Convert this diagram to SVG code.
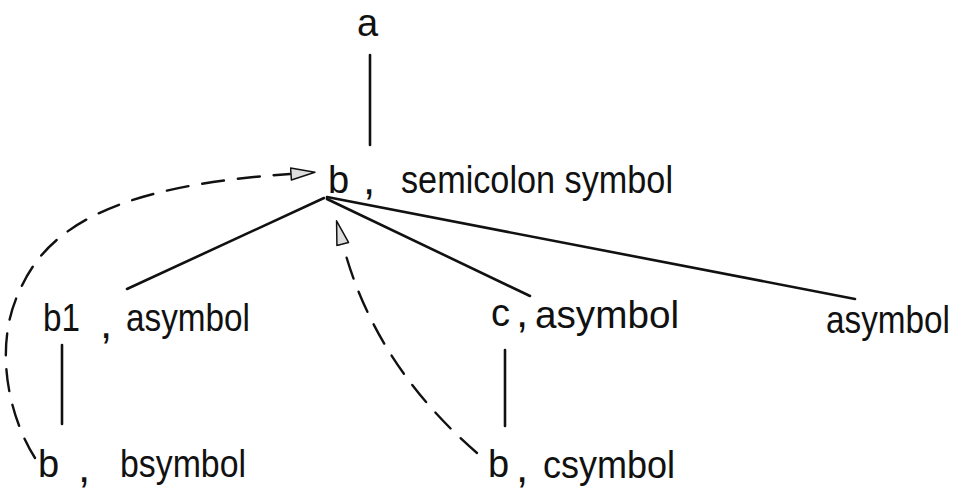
<svg xmlns="http://www.w3.org/2000/svg" width="969" height="498" viewBox="0 0 969 498">
  <style>
    .t { font-family: "Liberation Sans", Arial, sans-serif; font-size: 38px; fill: #111; }
    .cm { font-family: "Liberation Sans", Arial, sans-serif; font-size: 44px; fill: #111; }
    .edge { stroke: #111; stroke-width: 2.6; fill: none; stroke-linecap: round; }
    .dash { stroke: #111; stroke-width: 2.4; fill: none; stroke-dasharray: 22 14; stroke-linecap: round; }
  </style>
  <defs>
    <marker id="arrow" viewBox="0 0 26 14" refX="0" refY="7" markerWidth="26" markerHeight="14" markerUnits="userSpaceOnUse" orient="auto">
      <path d="M1,1 L25,7 L1,13 Z" fill="#ddd" stroke="#111" stroke-width="1.5" stroke-linejoin="round"/>
    </marker>
  </defs>
  <rect width="969" height="498" fill="#fff"/>

  <g id="connectors">
    <line class="edge" x1="370" y1="55" x2="370" y2="145"/>
    <line class="edge" x1="324" y1="198" x2="127" y2="289"/>
    <line class="edge" x1="327" y1="199" x2="530" y2="296"/>
    <line class="edge" x1="327" y1="197" x2="855" y2="299"/>
    <line class="edge" x1="62" y1="345" x2="62" y2="424"/>
    <line class="edge" x1="505" y1="350" x2="505" y2="426"/>
    <path class="dash" d="M35,458 C5,410 -5,340 20,290 C50,220 130,185 290,174" marker-end="url(#arrow)"/>
    <path class="dash" d="M477,453 Q375,365 343,245" marker-end="url(#arrow)"/>
  </g>

  <g id="node-a">
    <text class="t" x="357" y="36" font-size="42">a</text>
  </g>
  <g id="node-b-root">
    <text class="t" x="328" y="193">b</text>
    <text class="cm" x="363" y="194">,</text>
    <text class="t" x="401" y="193" textLength="272" lengthAdjust="spacingAndGlyphs">semicolon symbol</text>
  </g>
  <g id="node-b1">
    <text class="t" x="43" y="331" textLength="37" lengthAdjust="spacingAndGlyphs">b1</text>
    <text class="cm" x="100" y="338">,</text>
    <text class="t" x="126" y="331" textLength="124" lengthAdjust="spacingAndGlyphs">asymbol</text>
  </g>
  <g id="node-b-bsymbol">
    <text class="t" x="38" y="477">b</text>
    <text class="cm" x="78" y="482">,</text>
    <text class="t" x="120" y="477" textLength="126" lengthAdjust="spacingAndGlyphs">bsymbol</text>
  </g>
  <g id="node-c">
    <text class="t" x="491" y="326">c</text>
    <text class="cm" x="516" y="327">,</text>
    <text class="t" x="535" y="328" textLength="144" lengthAdjust="spacingAndGlyphs">asymbol</text>
  </g>
  <g id="node-b-csymbol">
    <text class="t" x="488" y="477">b</text>
    <text class="cm" x="516" y="482">,</text>
    <text class="t" x="543" y="478" textLength="132" lengthAdjust="spacingAndGlyphs">csymbol</text>
  </g>
  <g id="node-asymbol">
    <text class="t" x="826" y="333" font-size="34" textLength="124" lengthAdjust="spacingAndGlyphs">asymbol</text>
  </g>
</svg>
